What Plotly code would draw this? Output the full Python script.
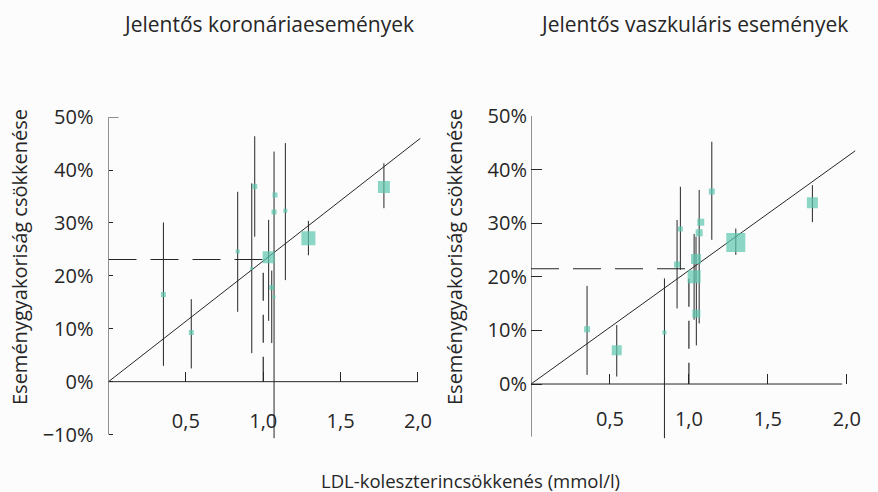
import plotly.graph_objects as go

# ---- Jelentős koronáriaesemények ----
cor_x = [0.355, 0.535, 0.835, 0.926, 0.945, 1.035, 1.055, 1.070, 1.076, 1.070, 1.143, 1.292, 1.780]
cor_y = [16.5, 9.3, 24.6, 21.4, 36.9, 23.5, 17.8, 16.0, 35.3, 32.1, 32.3, 27.1, 36.8]
cor_hi = [30.1, 15.6, 35.9, 37.5, 46.4, 30.6, 21.0, 43.5, 35.3, 32.1, 45.1, 30.4, 41.3]
cor_lo = [3.0, 2.5, 13.2, 5.4, 27.4, 11.5, 7.3, -10.7, 35.3, 32.1, 19.2, 23.9, 32.8]
cor_size = [5, 5, 4, 3, 5, 12, 5, 3, 5, 5, 4, 14, 12]
cor_ref_y = 23.1
cor_fit_end = [2.015, 46.0]

# ---- Jelentős vaszkuláris események ----
vas_x = [0.355, 0.543, 0.845, 0.925, 0.946, 1.033, 1.045, 1.047, 1.065, 1.075, 1.145, 1.297, 1.782]
vas_y = [10.2, 6.3, 9.6, 22.3, 28.9, 20.0, 23.3, 13.1, 28.2, 30.2, 35.9, 26.4, 33.8]
vas_hi = [18.3, 11.0, 19.7, 30.6, 36.8, 28.0, 27.5, 19.0, 36.2, 30.2, 45.2, 29.0, 37.1]
vas_lo = [1.7, 1.4, -10.1, 14.1, 21.3, 12.0, 19.0, 7.2, 11.3, 30.2, 26.9, 24.1, 30.2]
vas_size = [6, 10, 4, 6, 5, 13, 10, 8, 7, 7, 6, 19, 11]
vas_ref_y = 21.5
vas_fit_end = [2.053, 43.5]

x_ticks = [0.5, 1.0, 1.5, 2.0]
x_tick_text = ["0,5", "1,0", "1,5", "2,0"]
y_ticks_cor = [-10, 0, 10, 20, 30, 40, 50]
y_text_cor = ["−10%", "0%", "10%", "20%", "30%", "40%", "50%"]
y_ticks_vas = [0, 10, 20, 30, 40, 50]
y_text_vas = ["0%", "10%", "20%", "30%", "40%", "50%"]

titles = ["Jelentős koronáriaesemények", "Jelentős vaszkuláris események"]
y_title = "Eseménygyakoriság csökkenése"
x_title = "LDL-koleszterincsökkenés (mmol/l)"

W, H = 878, 492
INK = "#262626"
TEAL = "#5cc6ae"
FONT = "Open Sans"

fig = go.Figure()


def add_panel(xa, ya, xs, ys, hi, lo, sizes, ref_y, fit_end):
    # regression line through the origin
    fig.add_trace(go.Scatter(
        x=[0, fit_end[0]], y=[0, fit_end[1]], mode="lines",
        line=dict(color=INK, width=1), xaxis=xa, yaxis=ya,
        hoverinfo="skip", showlegend=False))
    # dashed guide at 1,0 mmol/l
    fig.add_trace(go.Scatter(
        x=[0, 1.0, 1.0], y=[ref_y, ref_y, 0], mode="lines",
        line=dict(color=INK, width=1.2, dash="28px,14px"),
        xaxis=xa, yaxis=ya, hoverinfo="skip", showlegend=False))
    # trials with confidence intervals
    fig.add_trace(go.Scatter(
        x=xs, y=ys, mode="markers", xaxis=xa, yaxis=ya,
        marker=dict(symbol="square", size=sizes, color=TEAL, line=dict(width=0)),
        error_y=dict(type="data", symmetric=False,
                     array=[h - v for h, v in zip(hi, ys)],
                     arrayminus=[v - l for l, v in zip(lo, ys)],
                     thickness=1, width=0, color=INK),
        showlegend=False))


add_panel("x", "y", cor_x, cor_y, cor_hi, cor_lo, cor_size, cor_ref_y, cor_fit_end)
add_panel("x2", "y2", vas_x, vas_y, vas_hi, vas_lo, vas_size, vas_ref_y, vas_fit_end)

# axis lines
shapes = [
    dict(type="line", xref="x", yref="y", x0=0, x1=0, y0=-10, y1=50, line=dict(color=INK, width=1)),
    dict(type="line", xref="x", yref="y", x0=0, x1=2.0, y0=0, y1=0, line=dict(color=INK, width=1)),
    dict(type="line", xref="x", yref="y", x0=0, x1=0.065, y0=50, y1=50, line=dict(color=INK, width=1)),
    dict(type="line", xref="x2", yref="y2", x0=0, x1=0, y0=-9.8, y1=50, line=dict(color=INK, width=1)),
    dict(type="line", xref="x2", yref="y2", x0=0, x1=1.97, y0=0, y1=0, line=dict(color=INK, width=1)),
]


def px_x(p):
    return p / W


def px_y(p):
    return 1 - p / H


tick_font = dict(family=FONT, size=20, color=INK)

xcommon = dict(showgrid=False, zeroline=False, showline=False, ticks="inside", ticklen=10,
               tickwidth=1, tickcolor=INK, tickvals=x_ticks, ticktext=x_tick_text,
               tickfont=tick_font, anchor="free", automargin=False, fixedrange=True)
ycommon = dict(showgrid=False, zeroline=False, showline=False, ticks="inside",
               tickwidth=1, tickcolor=INK, tickfont=tick_font, automargin=False,
               fixedrange=True)


def label(text, x, y, size, angle=0):
    return dict(text=text, x=px_x(x), y=px_y(y), xref="paper", yref="paper",
                xanchor="center", yanchor="middle", textangle=angle,
                showarrow=False, font=dict(family=FONT, size=size, color=INK))


fig.update_layout(
    template="none",
    width=W, height=H, margin=dict(l=0, r=0, t=0, b=0, pad=0), autosize=False,
    paper_bgcolor="#fcfcfc", plot_bgcolor="rgba(0,0,0,0)",
    font=dict(family=FONT, color=INK),
    xaxis=dict(xcommon, range=[0, 2.03], domain=[px_x(108.5), px_x(422.6)],
               position=px_y(381.7), ticklabelstandoff=25),
    yaxis=dict(ycommon, range=[-10.8, 50], domain=[px_y(438.8), px_y(117.2)], anchor="x",
               tickvals=y_ticks_cor, ticktext=y_text_cor, ticklen=4, ticklabelstandoff=14),
    xaxis2=dict(xcommon, range=[0, 2.06], domain=[px_x(531), px_x(856.3)],
                position=px_y(384), ticklabelstandoff=21),
    yaxis2=dict(ycommon, range=[-10.5, 50], domain=[px_y(440.3), px_y(116)], anchor="x2",
                tickvals=y_ticks_vas, ticktext=y_text_vas, ticklen=11, ticklabelstandoff=3),
    shapes=shapes,
    annotations=[
        label(titles[0], 268, 24, 21),
        label(titles[1], 694, 24, 21),
        label(y_title, 19, 257, 20, -90),
        label(y_title, 454, 257, 20, -90),
        label(x_title, 471, 480, 18.5),
    ],
)

fig.write_html("out.html")
